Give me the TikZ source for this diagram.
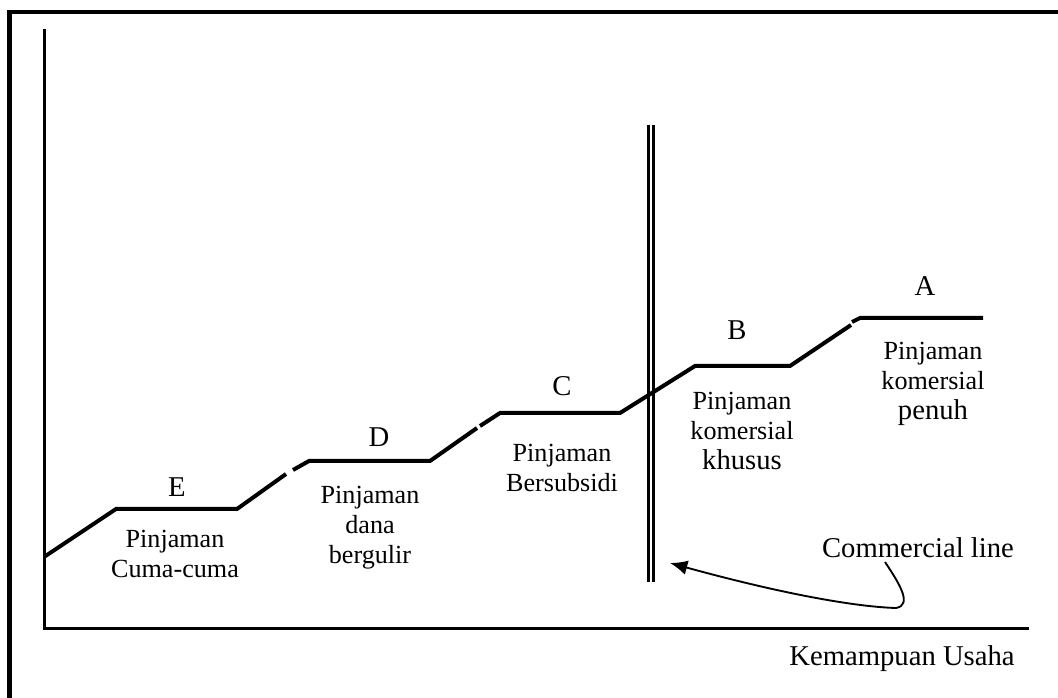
\documentclass[tikz,border=0pt]{standalone}
\usepackage{fontspec}
\setmainfont{Liberation Serif}
\usetikzlibrary{arrows.meta}

\tikzset{
  stepline/.style={line width=3pt},
  axisline/.style={line width=1.9pt},
  lbl/.style={font=\fontsize{21.5}{23}\selectfont},
  blk/.style={font=\fontsize{19.6}{22.5}\selectfont, align=center, anchor=north, inner sep=0pt},
}

\begin{document}
\begin{tikzpicture}[x=0.75pt,y=0.75pt,yscale=-1,xscale=1]
	\useasboundingbox (0,0) rectangle (1058,698);
	
	%Frame
	\draw [line width=3.4pt]  (9.5,700) -- (9.5,12) -- (1060,12) ;
	
	%Axes
	\draw [axisline]  (44.5,29) -- (44.5,628.5) -- (1029,628.5) ;
	
	%Steps
	\draw [stepline]  (44,557) -- (116,509) -- (237,509) -- (286,474) ;
	\draw [stepline]  (293,470) -- (309,461) -- (430,461) -- (477,428) ;
	\draw [stepline]  (480,426) -- (500,413) -- (620,413) -- (695,366) -- (790,366) -- (851,325) ;
	\draw [stepline]  (852,322) -- (860,318) -- (983,318) ;
	
	%Commercial line (double)
	\draw [line width=2.2pt]  (648.5,125) -- (648.5,582) ;
	\draw [line width=2.2pt]  (653.5,125) -- (653.5,582) ;
	
	%Curved arrow
	\draw [line width=1.4pt, -{Latex[length=13pt,width=11pt]}]  (885,562) .. controls (899,583) and (913,605) .. (896,608) .. controls (860,607) and (790,596) .. (670,563) ;
	
	% Text Node
	\draw (925,286) node [lbl] (labA) {A};
	% Text Node
	\draw (737,330) node [lbl] (labB) {B};
	% Text Node
	\draw (562,386) node [lbl] (labC) {C};
	% Text Node
	\draw (379,437) node [lbl] (labD) {D};
	% Text Node
	\draw (177,487) node [lbl] (labE) {E};
	% Text Node
	\draw (933,342) node [blk] (txtA) {Pinjaman\\komersial\\{\fontsize{21.5}{22.5}\selectfont penuh}};
	% Text Node
	\draw (742,392) node [blk] (txtB) {Pinjaman\\komersial\\{\fontsize{21.5}{22.5}\selectfont khusus}};
	% Text Node
	\draw (562,444) node [blk] (txtC) {Pinjaman\\Bersubsidi};
	% Text Node
	\draw (370,486) node [blk] (txtD) {Pinjaman\\dana\\bergulir};
	% Text Node
	\draw (175,530) node [blk] (txtE) {Pinjaman\\Cuma-cuma};
	% Text Node
	\draw (918,548) node [font=\fontsize{21.5}{24}\selectfont] (txtCom) {Commercial line};
	% Text Node
	\draw (902,659) node [font=\fontsize{21.5}{24}\selectfont] (txtX) {Kemampuan Usaha};
\end{tikzpicture}
\end{document}
